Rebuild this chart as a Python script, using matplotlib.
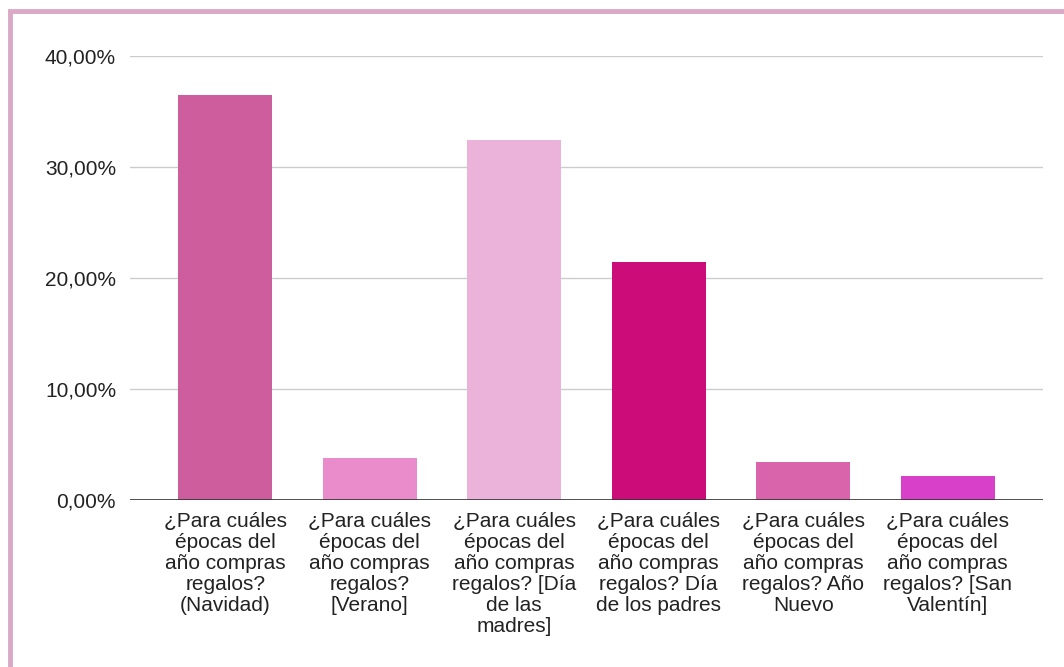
import matplotlib
matplotlib.use("Agg")
import matplotlib.pyplot as plt
from matplotlib.patches import Rectangle
from matplotlib.ticker import FuncFormatter

plt.rcParams['font.family'] = ['Liberation Sans', 'DejaVu Sans']

categories = [
    "¿Para cuáles\népocas del\naño compras\nregalos?\n(Navidad)",
    "¿Para cuáles\népocas del\naño compras\nregalos?\n[Verano]",
    "¿Para cuáles\népocas del\naño compras\nregalos? [Día\nde las\nmadres]",
    "¿Para cuáles\népocas del\naño compras\nregalos? Día\nde los padres",
    "¿Para cuáles\népocas del\naño compras\nregalos? Año\nNuevo",
    "¿Para cuáles\népocas del\naño compras\nregalos? [San\nValentín]",
]
values = [0.365, 0.038, 0.324, 0.214, 0.034, 0.022]
colors = ["#cd5d9c", "#ea8ccc", "#ecb3da", "#cc0c78", "#da64ab", "#d840c9"]
yticks = [0.0, 0.1, 0.2, 0.3, 0.4]

fig = plt.figure(figsize=(10.64, 6.67), dpi=100)
ax = fig.add_axes([130 / 1064, 1 - 500 / 667, (1043 - 130) / 1064, (500 - 56) / 667])

x = list(range(len(categories)))
ax.bar(x, values, width=0.65, color=colors, zorder=3)

ax.set_ylim(0, 0.4)
ax.set_xlim(-0.66, len(categories) - 1 + 0.66)
ax.set_yticks(yticks)
ax.yaxis.set_major_formatter(FuncFormatter(lambda v, _: f"{v * 100:.2f}%".replace(".", ",")))
ax.grid(axis="y", color="#cccccc", linewidth=1, zorder=0)
ax.axhline(0, color="#333333", linewidth=1.2, zorder=4)

for s in ax.spines.values():
    s.set_visible(False)
ax.tick_params(axis="both", length=0, labelsize=15, colors="#222222")
ax.tick_params(axis="y", pad=10)
ax.tick_params(axis="x", pad=9)
ax.set_xticks(x)
ax.set_xticklabels(categories, linespacing=1.12, va="top", ha="center")

# Decorative frame around the figure
fig.patches.append(Rectangle((10 / 1064, -0.1), 1.2, 1 - 11 / 667 + 0.1,
                             transform=fig.transFigure, fill=False,
                             edgecolor="#dba8c6", linewidth=3.5, zorder=10))

fig.savefig("out.png", dpi=100)
